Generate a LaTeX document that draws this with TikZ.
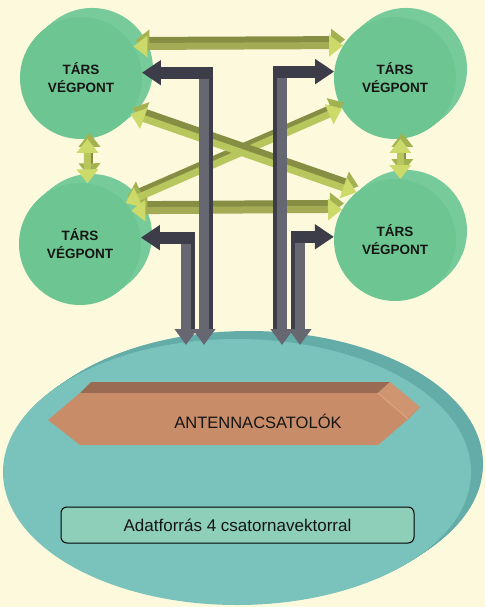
\documentclass[tikz,border=0pt]{standalone}
\usepackage{fontspec}
\setmainfont{Liberation Sans}
\usetikzlibrary{arrows.meta,calc,shapes.geometric}
\definecolor{bg}{HTML}{FDF9DD}
\definecolor{cylfront}{HTML}{6DC692}
\definecolor{cylside}{HTML}{77CB9B}
\definecolor{elfront}{HTML}{79C3BC}
\definecolor{elside}{HTML}{63ACA8}
\definecolor{antfront}{HTML}{C98C68}
\definecolor{anttop}{HTML}{9A6B52}
\definecolor{antright}{HTML}{CF9470}
\definecolor{antedge}{HTML}{E2A882}
\definecolor{boxfill}{HTML}{8ECFB9}
\definecolor{gfront}{HTML}{A3AC55}
\definecolor{gfrontlight}{HTML}{B8C65E}
\definecolor{gtop}{HTML}{868E44}
\definecolor{ghead}{HTML}{CBDA68}
\definecolor{ghead2}{HTML}{A3B250}
\definecolor{kdark}{HTML}{3D3C49}
\definecolor{kmid}{HTML}{676772}
\definecolor{txt}{HTML}{151515}
\newcommand\greenlink[3][]{%
  \draw[greenback] ([shift={(2,-6)}]#2) -- ([shift={(2,-6)}]#3);
  \draw[greenarrow,#1] (#2) -- (#3);}
\begin{document}
\begin{tikzpicture}[x=1pt,y=-1pt,
  peer/.style={circle, fill=cylfront, minimum size=122pt, inner sep=0pt, align=center, text=txt,
    font=\bfseries\fontsize{13.5}{18}\selectfont},
  greenarrow/.style={line width=7pt, draw=gfront,
    arrows={Triangle[width=21pt,length=14pt,color=ghead]-Triangle[width=21pt,length=14pt,color=ghead]}},
  greenback/.style={line width=7pt, draw=gtop,
    arrows={Triangle[width=21pt,length=14pt,color=ghead2]-Triangle[width=21pt,length=14pt,color=ghead2]}},
  lightlink/.style={draw=gfrontlight},
  graybar/.style={line width=12pt, draw=kdark, arrows={Triangle[width=24pt,length=19pt,color=kdark]-}},
  grayshaft/.style={line width=10pt, draw=kmid, arrows={-Triangle[width=22pt,length=16pt,color=kmid]}},
  grayside/.style={line width=4pt, draw=kdark}
]
\fill[bg] (0,0) rectangle (485,607);
\useasboundingbox (0,0) rectangle (485,607);

% data source ellipse (extruded)
\foreach \i in {1,...,12}
  \fill[elside] ({237+\i},{472-\i*0.667}) ellipse [x radius=234pt, y radius=133pt];
\node[ellipse, fill=elfront, minimum width=468pt, minimum height=266pt, inner sep=0pt] (src) at (237,472) {};

% antenna couplers prism
\fill[anttop] (80,393) -- (91,382) -- (390,382) -- (378,393) -- cycle;
\fill[antright] (378,393) -- (390,382) -- (420,407) -- (408,419) -- cycle;
\fill[antfront] (408,419) -- (420,407) -- (389,434) -- (378,445) -- cycle;
\fill[antfront] (48,420) -- (80,393) -- (378,393) -- (408,419) -- (378,445) -- (80,445) -- cycle;
\draw[antedge, line width=0.8pt] (378,393) -- (408,419);
\node[font=\fontsize{16.5}{20}\selectfont, text=txt, anchor=base] (ant) at (258,428) {ANTENNACSATOLÓK};

% data box
\node[draw=black, line width=1pt, fill=boxfill, rounded corners=6pt, minimum width=353pt, minimum height=36pt,
  inner sep=0pt, text=txt, font=\fontsize{17}{20}\selectfont] (data) at (237.5,525) {Adatforrás 4 csatornavektorral};

% peer cylinders
\coordinate (ctl) at (81,78);
\coordinate (ctr) at (395,78);
\coordinate (cbl) at (80,244);
\coordinate (cbr) at (395,240);
\foreach \c in {ctl,ctr,cbl,cbr}
  \foreach \i in {1,...,11}
    \fill[cylside] ($(\c)+({\i},{-\i*0.82})$) circle [radius=61pt];
\node[peer] (tl) at (ctl) {TÁRS\\VÉGPONT};
\node[peer] (tr) at (ctr) {TÁRS\\VÉGPONT};
\node[peer] (bl) at (cbl) {TÁRS\\VÉGPONT};
\node[peer] (br) at (cbr) {TÁRS\\VÉGPONT};

% green peer links
\greenlink{tl.31.6}{tr.148.4}
\greenlink{bl.33.9}{br.150.6}
\greenlink[lightlink]{tl.-84}{bl.83}
\greenlink[lightlink]{tr.-85}{br.85}
\greenlink[lightlink]{tr.210}{bl.42}
\greenlink[lightlink]{tl.-36}{br.129}

% grey links to the data source
\coordinate (g1b) at (204,345);
\coordinate (g2b) at (282,345);
\coordinate (g3b) at (186,345);
\coordinate (g4b) at (300,345);

\draw[grayshaft] (tl.5.6 -| g1b) -- (g1b);
\draw[grayside] ($(tl.5.6 -| g1b)+(7,-5)$) -- ($(g1b)+(7,-16)$);
\draw[graybar] (tl.5.6) -- ($(tl.5.6 -| g1b)+(9,0)$);

\draw[grayshaft] (bl.6.6 -| g3b) -- (g3b);
\draw[grayside] ($(bl.6.6 -| g3b)+(7,-5)$) -- ($(g3b)+(7,-16)$);
\draw[graybar] (bl.6.6) -- ($(bl.6.6 -| g3b)+(9,0)$);

\draw[grayshaft] (tr.174.4 -| g2b) -- (g2b);
\draw[grayside] ($(tr.174.4 -| g2b)+(-7,-5)$) -- ($(g2b)+(-7,-16)$);
\draw[graybar] (tr.174.4) -- ($(tr.174.4 -| g2b)+(-9,0)$);

\draw[grayshaft] (br.177.2 -| g4b) -- (g4b);
\draw[grayside] ($(br.177.2 -| g4b)+(-7,-5)$) -- ($(g4b)+(-7,-16)$);
\draw[graybar] (br.177.2) -- ($(br.177.2 -| g4b)+(-9,0)$);
\end{tikzpicture}
\end{document}
